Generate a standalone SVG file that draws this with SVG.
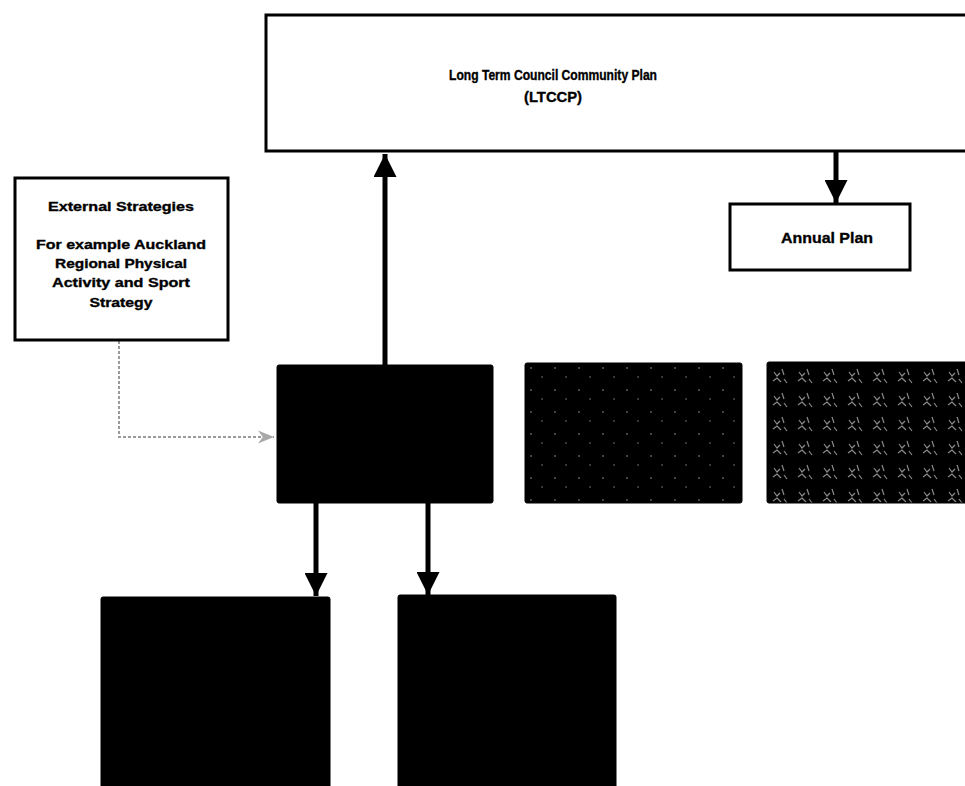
<svg xmlns="http://www.w3.org/2000/svg" width="965" height="786" viewBox="0 0 965 786">
<style>
.box{fill:#fff;stroke:#000;stroke-width:3}
.dark{fill:#000;stroke:#000;stroke-width:1}
.t{font-family:"Liberation Sans",Arial,sans-serif;font-weight:bold;fill:#000;stroke:#000;stroke-width:0.35;text-anchor:middle}
.conn{stroke:#000;stroke-width:5;fill:none}
.dot{stroke:#9a9a9a;stroke-width:2;stroke-dasharray:3 2;fill:none}
</style>
<defs>
<marker id="ah" viewBox="0 0 10 10" refX="10" refY="5" markerWidth="5.4" markerHeight="4.6" orient="auto" markerUnits="strokeWidth">
<path d="M0,0 L10,5 L0,10 Z" fill="#000"/>
</marker>
<marker id="ahg" viewBox="0 0 10 10" refX="10" refY="5" markerWidth="11" markerHeight="8" orient="auto" markerUnits="strokeWidth">
<path d="M0,1 L10,5 L0,9 L3,5 Z" fill="#a8a8a8"/>
</marker>
<pattern id="sparse" width="24" height="22" patternUnits="userSpaceOnUse" x="525" y="363">
<rect width="24" height="22" fill="#000"/>
<circle cx="6" cy="5" r="0.8" fill="#9a9a9a"/>
<circle cx="17" cy="14" r="0.7" fill="#9a9a9a"/>
</pattern>
<pattern id="dense" width="25" height="24" patternUnits="userSpaceOnUse" x="768" y="364">
<rect width="25" height="24" fill="#000"/>
<path d="M6,8 l3,4 l3,-3 M14,5 l2,6 M5,17 l4,-3 l4,4 M16,15 l3,4" stroke="#8a8a8a" stroke-width="1.2" fill="none"/>
</pattern>
</defs>

<g id="connectors">
<line class="conn" x1="385" y1="365" x2="385" y2="154" marker-end="url(#ah)"/>
<line class="conn" x1="836" y1="152" x2="836" y2="203" marker-end="url(#ah)"/>
<line class="conn" x1="316" y1="503" x2="316" y2="596" marker-end="url(#ah)"/>
<line class="conn" x1="428" y1="503" x2="428" y2="595" marker-end="url(#ah)"/>
<polyline class="dot" points="119,341 119,437 274,437" marker-end="url(#ahg)"/>
</g>

<g id="ltccp">
<rect class="box" x="266" y="15" width="710" height="136"/>
<text class="t" x="553" y="80" font-size="14" textLength="208" lengthAdjust="spacingAndGlyphs">Long Term Council Community Plan</text>
<text class="t" x="553" y="102" font-size="14" textLength="58" lengthAdjust="spacingAndGlyphs">(LTCCP)</text>
</g>

<g id="annual">
<rect class="box" x="730" y="204" width="180" height="66"/>
<text class="t" x="827" y="243" font-size="15" textLength="92" lengthAdjust="spacingAndGlyphs">Annual Plan</text>
</g>

<g id="external">
<rect class="box" x="15" y="178" width="213" height="162"/>
<text class="t" x="121" y="211" font-size="13" textLength="146" lengthAdjust="spacingAndGlyphs">External Strategies</text>
<text class="t" x="121" y="249" font-size="13" textLength="170" lengthAdjust="spacingAndGlyphs">For example Auckland</text>
<text class="t" x="121" y="268" font-size="13" textLength="132" lengthAdjust="spacingAndGlyphs">Regional Physical</text>
<text class="t" x="121" y="287" font-size="13" textLength="138" lengthAdjust="spacingAndGlyphs">Activity and Sport</text>
<text class="t" x="121" y="307" font-size="13" textLength="63" lengthAdjust="spacingAndGlyphs">Strategy</text>
</g>

<g id="central">
<rect class="dark" x="277" y="365" width="216" height="138" rx="2"/>
</g>

<g id="pattern1">
<rect x="525" y="363" width="217" height="140" rx="2" fill="url(#sparse)" stroke="#000" stroke-width="1"/>
</g>

<g id="pattern2">
<rect x="767" y="362" width="205" height="141" rx="2" fill="url(#dense)" stroke="#000" stroke-width="1"/>
</g>

<g id="bottom-left">
<rect class="dark" x="101" y="597" width="229" height="195" rx="2"/>
</g>

<g id="bottom-right">
<rect class="dark" x="398" y="595" width="218" height="197" rx="2"/>
</g>
</svg>
